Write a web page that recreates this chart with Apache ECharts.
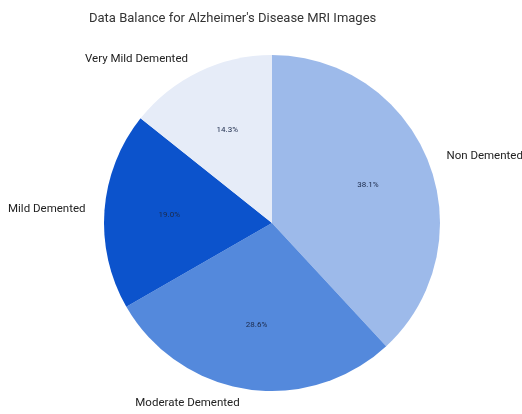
<!DOCTYPE html>
<html>
<head>
<meta charset="utf-8">
<script src="https://cdn.jsdelivr.net/npm/echarts@6/dist/echarts.min.js"></script>
<style>
  html, body { margin: 0; padding: 0; background: #fff; }
  #chart { width: 522px; height: 414px; }
</style>
</head>
<body>
<div id="chart"></div>
<script>
// categories and shares (percent), clockwise from 12 o'clock
const categories = ['Non Demented', 'Moderate Demented', 'Mild Demented', 'Very Mild Demented']
const shares = [38.1, 28.6, 19.0, 14.3]
const colors = ['#9dbaea', '#5489dc', '#0c53cc', '#e6ecf8']

const chart = echarts.init(document.getElementById('chart'))
const pieData = categories.map((name, i) => ({ name, value: shares[i] }))

chart.setOption({
  color: colors,
  title: {
    text: "Data Balance for Alzheimer's Disease MRI Images",
    left: 84,
    top: 7,
    textStyle: { fontFamily: 'Roboto', fontSize: 13, fontWeight: 'normal', color: '#333' }
  },
  series: [
    {
      // slices + outside category labels
      type: 'pie',
      center: [272, 223],
      radius: 168,
      startAngle: 90,
      clockwise: true,
      data: pieData,
      silent: true,
      label: {
        position: 'outside',
        formatter: '{b}',
        fontFamily: 'Roboto',
        fontSize: 11.5,
        color: '#222',
        overflow: 'none'
      },
      labelLine: { show: false, length: 14, length2: 0 }
    },
    {
      // percentages inside
      type: 'pie',
      center: [272, 223],
      radius: [32, 168],
      startAngle: 90,
      clockwise: true,
      data: pieData,
      silent: true,
      itemStyle: { color: 'transparent' },
      label: {
        position: 'inside',
        formatter: p => p.value.toFixed(1) + '%',
        fontFamily: 'Roboto',
        fontSize: 8,
        color: '#1c2a4a'
      },
      labelLine: { show: false }
    }
  ]
})
</script>
</body>
</html>
